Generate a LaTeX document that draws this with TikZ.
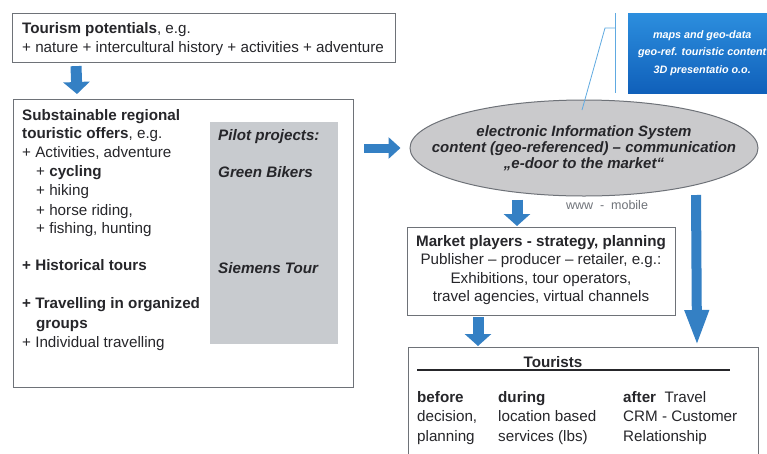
\documentclass[tikz,border=0pt]{standalone}
\usepackage{fontspec}
\setmainfont{Liberation Sans}
\usetikzlibrary{shapes.geometric,arrows.meta,calc}

\definecolor{flowblue}{RGB}{52,128,196}
\definecolor{boxline}{RGB}{110,114,120}
\definecolor{txt}{RGB}{38,38,42}
\definecolor{pilotgray}{RGB}{200,203,207}
\definecolor{ellgray}{RGB}{202,202,204}
\definecolor{geoblueA}{RGB}{16,96,186}
\definecolor{geoblueB}{RGB}{44,142,222}
\definecolor{callout}{RGB}{96,170,225}

\newcommand\bodyfont{\fontsize{15.2}{18}\selectfont}

\tikzset{
  panel/.style={draw=boxline, line width=1.1pt, fill=white, rectangle, inner sep=0pt, anchor=north west},
  line/.style={anchor=base west, inner sep=0pt, text=txt, font=\bodyfont},
  bline/.style={line, font=\bodyfont\bfseries},
  iline/.style={line, font=\bodyfont\bfseries\itshape},
  flow/.style={draw=flowblue, line width=11pt, -{Triangle[width=26pt,length=12pt]}},
  longflow/.style={draw=flowblue, line width=10pt, -{Triangle[width=22pt,length=36pt]}},
}

\begin{document}
\begin{tikzpicture}[x=1pt,y=-1pt]
\useasboundingbox (0,0) rectangle (767,453);
\fill[white] (0,0) rectangle (767,453);

% ---- tourism potentials
\node[panel, minimum width=383pt, minimum height=49pt] (potentials) at (12,13) {};
\node[bline] (potTitle) at (22,33) {Tourism potentials\mdseries, e.g.};
\node[line] (potList) at (22,52) {+ nature + intercultural history + activities + adventure};

% ---- regional offers
\node[panel, minimum width=340pt, minimum height=288pt] (offers) at (13,99) {};
\node[anchor=north west, fill=pilotgray, minimum width=128pt, minimum height=222pt, inner sep=0pt] (pilot) at (210,122) {};
\node[bline] (offA) at (22,120) {Substainable regional};
\node[bline] (offB) at (22,138) {touristic offers\mdseries, e.g.};
\node[line] (offC) at (22,157) {+ Activities, adventure};
\node[line] (offD) at (36,176) {+ \textbf{cycling}};
\node[line] (offE) at (36,195) {+ hiking};
\node[line] (offF) at (36,215) {+ horse riding,};
\node[line] (offG) at (36,233) {+ fishing, hunting};
\node[bline] (offH) at (22,270) {+ Historical tours};
\node[bline] (offI) at (22,308) {+ Travelling in organized};
\node[bline] (offJ) at (36,328) {groups};
\node[line] (offK) at (22,347) {+ Individual travelling};
\node[iline] (pilA) at (218,140) {Pilot projects:};
\node[iline] (pilB) at (218,177) {Green Bikers};
\node[iline] (pilC) at (218,273) {Siemens Tour};

% ---- information system
\node[ellipse, draw=boxline, line width=1pt, fill=ellgray, minimum width=348pt, minimum height=96pt, inner sep=0pt] (eis) at (584,148) {};
\node[align=center, text=txt, inner sep=0pt, font=\fontsize{15}{16}\selectfont\bfseries\itshape] (eisText) at (eis.center)
  {electronic Information System\\content (geo-referenced) -- communication\\,,e-door to the market``};

% ---- geo data box with callout
\node[anchor=north west, minimum width=148pt, minimum height=80pt, inner sep=0pt,
      top color=geoblueB, bottom color=geoblueA, align=center, text=white,
      font=\fontsize{10.8}{17.5}\selectfont\bfseries\itshape] (geo) at (628,13)
  {maps and geo-data\\geo-ref. touristic content\\3D presentatio o.o.};
\coordinate (calloutTop) at (615,13);
\coordinate (calloutBot) at (615,93);
\coordinate (calloutKnee) at (605,28);
\coordinate (calloutFoot) at (582,110);
\draw[callout, line width=0.8pt] (calloutTop) -- (calloutBot);
\draw[callout, line width=0.8pt] (calloutFoot) -- (calloutKnee) -- (calloutKnee -| calloutTop);

\node[text=boxline, font=\fontsize{12.5}{14}\selectfont, inner sep=0pt] (www) at (607,205) {www \ - \ mobile};

% ---- market players
\node[panel, minimum width=268pt, minimum height=88pt] (market) at (407,227) {};
\node[align=center, text=txt, inner sep=0pt, font=\fontsize{15.2}{18.5}\selectfont] (marketText) at (541,270)
  {\textbf{Market players - strategy, planning}\\Publisher -- producer -- retailer, e.g.:\\Exhibitions, tour operators,\\travel agencies, virtual channels};

% ---- tourists
\node[panel, minimum width=350pt, minimum height=125pt] (tourists) at (408,347) {};
\node[bline, anchor=base] (tourTitle) at (553,367) {Tourists};
\coordinate (ruleL) at (417,370);
\coordinate (ruleR) at (730,370);
\draw[txt, line width=1.4pt] (ruleL) -- (ruleR);
\node[bline] (befA) at (417,402) {before};
\node[line] (befB) at (417,421) {decision,};
\node[line] (befC) at (417,441) {planning};
\node[bline] (durA) at (498,402) {during};
\node[line] (durB) at (498,421) {location based};
\node[line] (durC) at (498,441) {services (lbs)};
\node[line] (aftA) at (623,402) {\textbf{after} \ Travel};
\node[line] (aftB) at (623,421) {CRM - Customer};
\node[line] (aftC) at (623,441) {Relationship};

% ---- flow arrows
\draw[flow] ([xshift=64pt,yshift=-3pt]potentials.south west) -- ([xshift=64pt,yshift=5pt]offers.north west);
\draw[flow, line width=9pt, -{Triangle[width=21pt,length=12pt]}] ([xshift=10pt]offers.east |- eis.west) -- ([xshift=-9pt]eis.west);
\draw[flow] ([xshift=-67pt,yshift=-3pt]eis.south) -- ([xshift=110pt,yshift=1pt]market.north west);
\draw[flow] ([xshift=71pt,yshift=-1pt]market.south west) -- ([xshift=70pt,yshift=1pt]tourists.north west);
\draw[longflow] ([xshift=289pt,yshift=32pt]market.north west) -- ([xshift=289pt,yshift=1pt]tourists.north west);
\end{tikzpicture}
\end{document}
